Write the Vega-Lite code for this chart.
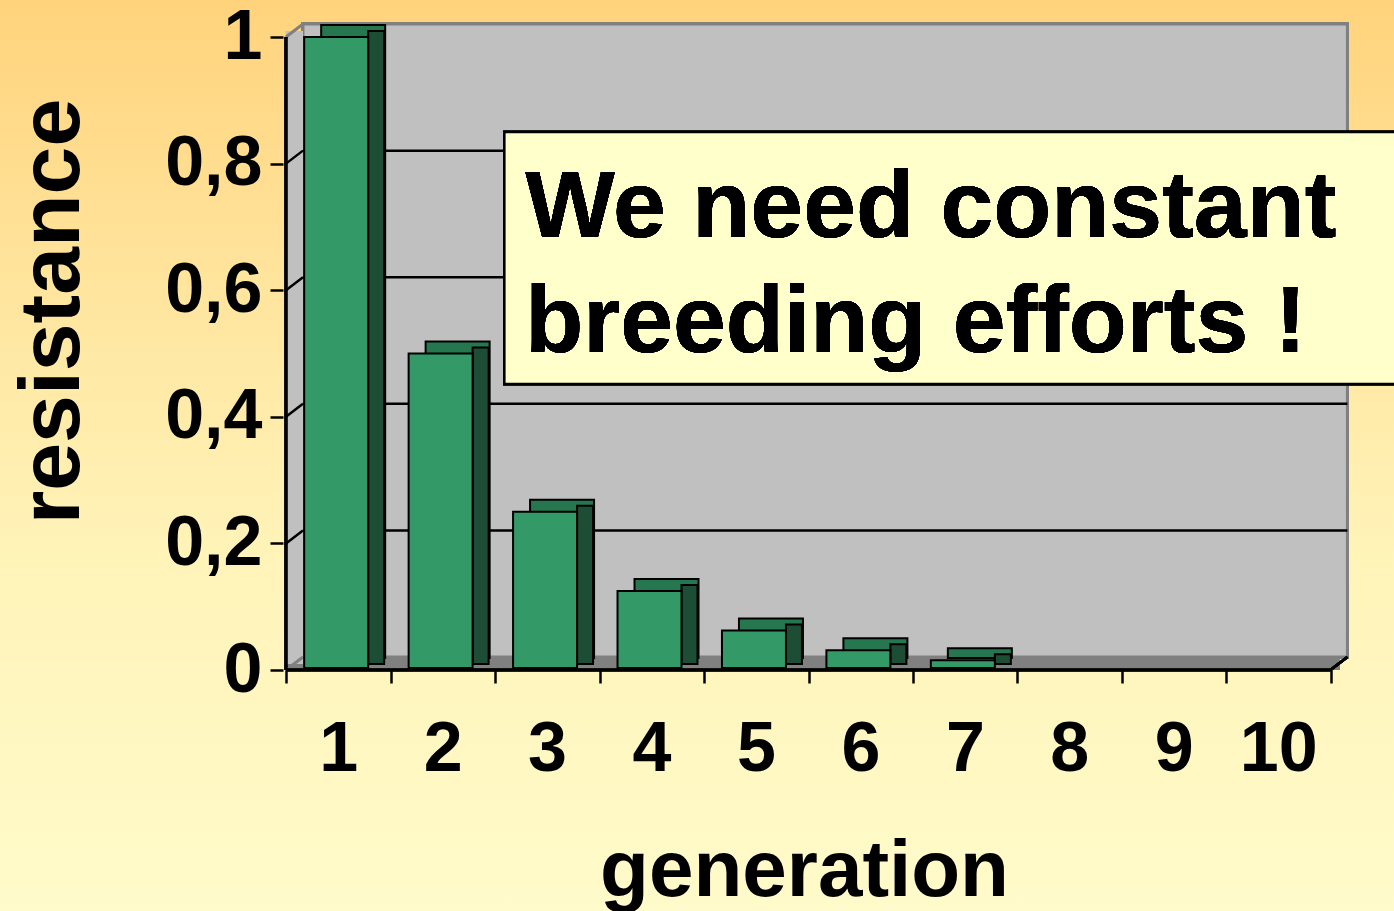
{
  "$schema": "https://vega.github.io/schema/vega-lite/v6.json",
  "width": 1394,
  "height": 911,
  "autosize": {"type": "none"},
  "padding": 0,
  "background": "#FFF3B8",
  "config": {
    "view": {
      "stroke": null,
      "fill": {
        "gradient": "linear", "x1": 0, "y1": 0, "x2": 0, "y2": 1,
        "stops": [
          {"offset": 0, "color": "#FFD37C"},
          {"offset": 0.3, "color": "#FFE49C"},
          {"offset": 0.6, "color": "#FFF3B8"},
          {"offset": 1, "color": "#FFFBCA"}
        ]
      }
    },
    "font": "Liberation Sans"
  },
  "datasets": {
    "bars": [
      {"generation": 1, "resistance": 1},
      {"generation": 2, "resistance": 0.5},
      {"generation": 3, "resistance": 0.25},
      {"generation": 4, "resistance": 0.125},
      {"generation": 5, "resistance": 0.0625},
      {"generation": 6, "resistance": 0.03125},
      {"generation": 7, "resistance": 0.015625}
    ],
    "grid": [
      {"tick": 0.2}, {"tick": 0.4}, {"tick": 0.6}, {"tick": 0.8}
    ],
    "edges": [
      {"tick": 0}, {"tick": 1}
    ]
  },
  "data": {"name": "bars"},
  "layer": [
    {
      "mark": {"type": "rect", "fill": "#C0C0C0", "stroke": "#808080", "strokeWidth": 3, "xOffset": 17, "x2Offset": 17, "yOffset": -13, "y2Offset": -13},
      "encoding": {
        "x": {
          "datum": 0.5, "type": "quantitative",
          "scale": {"type": "linear", "domain": [-2.19, 11.061], "nice": false, "zero": false},
          "axis": {
            "orient": "bottom", "offset": -241,
            "values": [0, 1, 2, 3, 4, 5, 6, 7, 8, 9, 10],
            "tickOffset": 52.6, "labelOffset": -52.6,
            "labelExpr": "datum.value == 0 ? '' : format(datum.value, 'd')",
            "domain": false, "grid": false,
            "ticks": true, "tickSize": 13, "tickWidth": 2.5, "tickColor": "black",
            "labelFont": "Liberation Sans", "labelFontSize": 70, "labelFontWeight": "bold", "labelColor": "black",
            "labelBaseline": "alphabetic", "labelPadding": 87, "labelAlign": "center",
            "labelOverlap": false, "labelFlush": false,
            "title": "generation", "titleFont": "Liberation Sans", "titleFontSize": 80, "titleFontWeight": "bold", "titleColor": "black",
            "titleX": 804, "titleY": 225, "titleBaseline": "alphabetic", "titleAlign": "center"
          }
        },
        "x2": {"datum": 10.5},
        "y": {
          "datum": 0, "type": "quantitative",
          "scale": {"type": "linear", "domain": [-0.3807, 1.0585], "nice": false, "zero": false},
          "axis": {
            "orient": "left", "offset": -283,
            "values": [0, 0.2, 0.4, 0.6, 0.8, 1],
            "labelExpr": "datum.value == 0 ? '0' : datum.value == 1 ? '1' : replace(format(datum.value, '.1f'), '.', ',')",
            "domain": false, "grid": false,
            "ticks": true, "tickSize": 13, "tickWidth": 2.5, "tickColor": "black",
            "labelFont": "Liberation Sans", "labelFontSize": 70, "labelFontWeight": "bold", "labelColor": "black",
            "labelBaseline": "middle", "labelPadding": 8, "labelAlign": "right",
            "labelOverlap": false, "labelFlush": false,
            "title": "resistance", "titleFont": "Liberation Sans", "titleFontSize": 86, "titleFontWeight": "bold", "titleColor": "black",
            "titleX": -205, "titleY": 311, "titleAngle": 270, "titleBaseline": "alphabetic", "titleAlign": "center"
          }
        },
        "y2": {"datum": 1}
      }
    },
    {
      "mark": {"type": "rect", "fill": "#808080", "x2Offset": 9, "y2Offset": -13},
      "encoding": {
        "x": {"datum": 0.5, "type": "quantitative"},
        "x2": {"datum": 10.5},
        "y": {"datum": 0, "type": "quantitative"},
        "y2": {"datum": 0}
      }
    },
    {
      "mark": {"type": "rect", "fill": "#C0C0C0", "x2Offset": 17, "yOffset": -6, "y2Offset": -6},
      "encoding": {
        "x": {"datum": 0.5, "type": "quantitative"},
        "x2": {"datum": 0.5},
        "y": {"datum": 0, "type": "quantitative"},
        "y2": {"datum": 1}
      }
    },
    {
      "data": {"name": "grid"},
      "mark": {"type": "rule", "color": "black", "strokeWidth": 2.5, "xOffset": 17, "x2Offset": 17, "yOffset": -13},
      "encoding": {
        "x": {"datum": 0.5, "type": "quantitative"},
        "x2": {"datum": 10.5},
        "y": {"field": "tick", "type": "quantitative"}
      }
    },
    {
      "data": {"name": "grid"},
      "mark": {"type": "rule", "color": "black", "strokeWidth": 2.5, "x2Offset": 17, "y2Offset": -13},
      "encoding": {
        "x": {"datum": 0.5, "type": "quantitative"},
        "x2": {"datum": 0.5},
        "y": {"field": "tick", "type": "quantitative"},
        "y2": {"field": "tick"}
      }
    },
    {
      "data": {"name": "edges"},
      "mark": {"type": "rule", "color": "#808080", "strokeWidth": 3, "x2Offset": 17, "y2Offset": -13},
      "encoding": {
        "x": {"datum": 0.5, "type": "quantitative"},
        "x2": {"datum": 0.5},
        "y": {"field": "tick", "type": "quantitative"},
        "y2": {"field": "tick"}
      }
    },
    {
      "mark": {"type": "rule", "color": "black", "strokeWidth": 2.5, "x2Offset": 17, "y2Offset": -13},
      "encoding": {
        "x": {"datum": 10.5, "type": "quantitative"},
        "x2": {"datum": 10.5},
        "y": {"datum": 0, "type": "quantitative"},
        "y2": {"datum": 0}
      }
    },
    {
      "mark": {"type": "rule", "color": "black", "strokeWidth": 2.5},
      "encoding": {
        "x": {"datum": 0.5, "type": "quantitative"},
        "x2": {"datum": 10.5},
        "y": {"datum": 0, "type": "quantitative"}
      }
    },
    {
      "mark": {"type": "rule", "color": "black", "strokeWidth": 2.5},
      "encoding": {
        "x": {"datum": 0.5, "type": "quantitative"},
        "y": {"datum": 0, "type": "quantitative"},
        "y2": {"datum": 1}
      }
    },
    {
      "mark": {"type": "bar", "size": 64, "fill": "#26774F", "stroke": "black", "strokeWidth": 2, "xOffset": 15, "yOffset": -12, "y2Offset": -12},
      "encoding": {
        "x": {"field": "generation", "type": "quantitative"},
        "y": {"field": "resistance", "type": "quantitative"},
        "y2": {"datum": 0}
      }
    },
    {
      "mark": {"type": "bar", "size": 16, "fill": "#1D4D35", "stroke": "black", "strokeWidth": 2, "xOffset": 38, "yOffset": -6, "y2Offset": -6},
      "encoding": {
        "x": {"field": "generation", "type": "quantitative"},
        "y": {"field": "resistance", "type": "quantitative"},
        "y2": {"datum": 0}
      }
    },
    {
      "mark": {"type": "bar", "size": 64, "fill": "#339966", "stroke": "black", "strokeWidth": 2, "xOffset": -2, "y2Offset": -2},
      "encoding": {
        "x": {"field": "generation", "type": "quantitative"},
        "y": {"field": "resistance", "type": "quantitative"},
        "y2": {"datum": 0}
      }
    },
    {
      "mark": {"type": "rect", "fill": "#FFFFCC", "stroke": "black", "strokeWidth": 2.5},
      "encoding": {
        "x": {"datum": 2.591, "type": "quantitative"},
        "x2": {"datum": 11.3},
        "y": {"datum": 0.85, "type": "quantitative"},
        "y2": {"datum": 0.452}
      }
    },
    {
      "mark": {"type": "text", "font": "Liberation Sans", "fontSize": 95, "fontWeight": "bold", "color": "black", "align": "left", "baseline": "alphabetic", "lineHeight": 115},
      "encoding": {
        "x": {"datum": 2.79, "type": "quantitative"},
        "y": {"datum": 0.684, "type": "quantitative"},
        "text": {"value": ["We need constant", "breeding efforts !"]}
      }
    }
  ]
}
